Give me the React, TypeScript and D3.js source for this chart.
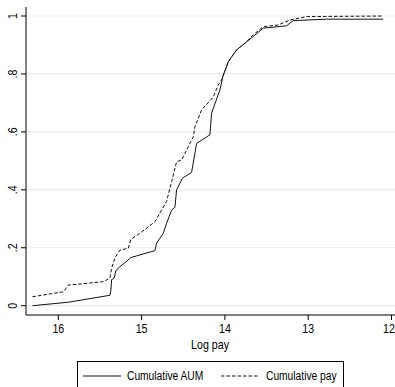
import * as d3 from "d3";

const yTicks = [0, 0.2, 0.4, 0.6, 0.8, 1];
const yTickLabels = ["0", ".2", ".4", ".6", ".8", "1"];
const xTicks = [16, 15, 14, 13, 12];

// cumulative AUM (solid)
const aumLogPay = [
  16.31, 15.88, 15.38, 15.37, 15.36, 15.33, 15.31, 15.28, 15.19, 15.13, 15.06,
  14.84, 14.82, 14.74, 14.7, 14.64, 14.6, 14.58, 14.51, 14.4, 14.37, 14.34,
  14.18, 14.16, 14.06, 14.02, 13.98, 13.96, 13.86, 13.76, 13.66, 13.54, 13.26,
  13.18, 12.78, 12.1,
];
const aumCum = [
  0, 0.012, 0.036, 0.05, 0.09, 0.095, 0.12, 0.13, 0.151, 0.166, 0.172, 0.19,
  0.216, 0.25, 0.285, 0.33, 0.34, 0.4, 0.44, 0.46, 0.51, 0.56, 0.59, 0.665,
  0.745, 0.796, 0.825, 0.842, 0.883, 0.906, 0.929, 0.958, 0.966, 0.984, 0.989,
  0.989,
];

// cumulative pay (dashed)
const payLogPay = [
  16.31, 15.94, 15.88, 15.46, 15.38, 15.36, 15.32, 15.26, 15.16, 15.13, 15.02,
  14.84, 14.76, 14.7, 14.64, 14.58, 14.52, 14.44, 14.38, 14.36, 14.28, 14.14,
  14.08, 14.04, 13.98, 13.96, 13.86, 13.76, 13.66, 13.54, 13.36, 13.22, 13.02,
  12.1,
];
const payCum = [
  0.031, 0.048, 0.071, 0.083, 0.095, 0.13, 0.165, 0.192, 0.198, 0.229, 0.25,
  0.29, 0.33, 0.36, 0.428, 0.497, 0.503, 0.549, 0.583, 0.618, 0.676, 0.72,
  0.762, 0.78, 0.825, 0.842, 0.883, 0.906, 0.935, 0.963, 0.969, 0.986, 0.998,
  1.0,
];

const W = 395;
const H = 387;
const FONT = "'Liberation Sans', Arial, sans-serif";
const NARROW = 0.82; // fake Arial Narrow by squeezing horizontally

// text squeezed horizontally, like Stata's narrow font
const Narrow = ({ x, y, rotate = 0, anchor = "start", size = 13, children }) => (
  <g transform={`translate(${x},${y}) rotate(${rotate}) scale(${NARROW},1)`}>
    <text x={0} y={0} textAnchor={anchor} fontSize={size} fill="#000">
      {children}
    </text>
  </g>
);

export default function App() {
  const x = d3.scaleLinear().domain([16.388, 11.958]).range([26, 395]);
  const y = d3.scaleLinear().domain([0, 1]).range([305.7, 16]);
  const axisY = 315;

  const line = d3
    .line<[number, number]>()
    .x((d) => x(d[0]))
    .y((d) => y(d[1]));

  const aum = aumLogPay.map((v, i) => [v, aumCum[i]] as [number, number]);
  const pay = payLogPay.map((v, i) => [v, payCum[i]] as [number, number]);

  return (
    <svg
      width={W}
      height={H}
      style={{ position: "absolute", left: 0, top: 0, background: "#fff" }}
      fontFamily={FONT}
    >
      {/* grid */}
      {yTicks.map((t) => (
        <line key={"g" + t} x1={26} x2={W} y1={y(t)} y2={y(t)} stroke="#e6eef0" strokeWidth={1.2} />
      ))}

      {/* y axis */}
      <line x1={26} x2={26} y1={7} y2={axisY} stroke="#000" strokeWidth={1} />
      {yTicks.map((t, i) => (
        <g key={"yt" + t}>
          <line x1={21} x2={26} y1={y(t)} y2={y(t)} stroke="#000" />
          <Narrow x={17} y={y(t)} rotate={-90} anchor="middle">
            {yTickLabels[i]}
          </Narrow>
        </g>
      ))}

      {/* x axis */}
      <line x1={26} x2={W} y1={axisY} y2={axisY} stroke="#000" strokeWidth={1} />
      {xTicks.map((t) => (
        <g key={"xt" + t}>
          <line x1={x(t)} x2={x(t)} y1={axisY} y2={axisY + 5} stroke="#000" />
          <Narrow x={Math.min(x(t), 389)} y={333} anchor="middle">
            {t}
          </Narrow>
        </g>
      ))}
      <Narrow x={210} y={349} anchor="middle">
        Log pay
      </Narrow>

      {/* series */}
      <path d={line(aum) ?? ""} fill="none" stroke="#111" strokeWidth={1} />
      <path d={line(pay) ?? ""} fill="none" stroke="#111" strokeWidth={1} strokeDasharray="3.5,2" />

      {/* legend */}
      <rect x={77.5} y={361.5} width={266} height={40} fill="#fff" stroke="#000" />
      <line x1={83} x2={121} y1={376} y2={376} stroke="#111" />
      <Narrow x={127} y={380} size={12.5}>
        Cumulative AUM
      </Narrow>
      <line x1={221} x2={259} y1={376} y2={376} stroke="#111" strokeDasharray="3.5,2" />
      <Narrow x={266} y={380} size={12.5}>
        Cumulative pay
      </Narrow>
    </svg>
  );
}
